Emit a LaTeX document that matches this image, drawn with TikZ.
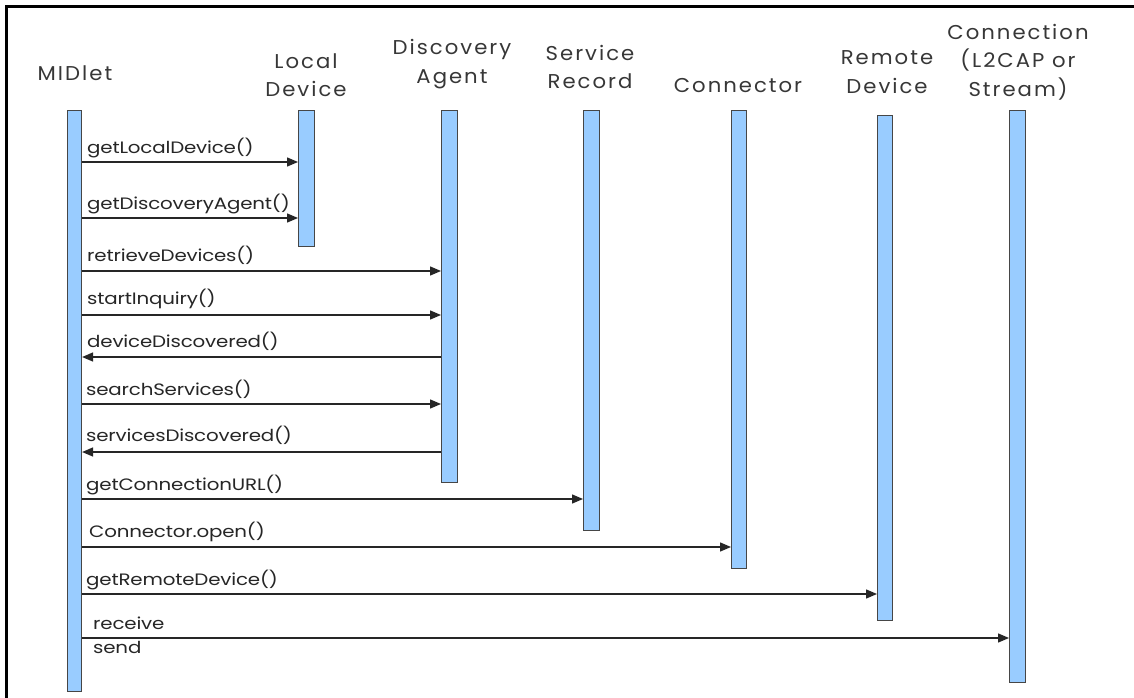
\documentclass[tikz,border=0pt]{standalone}
\usepackage{fontspec}
\setmainfont{Poppins}
\newfontfamily\headfont[FakeStretch=1.06,LetterSpace=10]{Poppins}
\newfontfamily\msgfont[FakeStretch=1.2,LetterSpace=-1]{Poppins}
\usetikzlibrary{arrows.meta}
\definecolor{barblue}{RGB}{153,204,255}
\definecolor{baredge}{RGB}{70,70,70}
\definecolor{headgray}{RGB}{55,55,55}
\tikzset{
  lifebar/.style={draw=baredge, fill=barblue, line width=1.1pt, inner sep=0pt},
  head/.style={font=\headfont\fontsize{20}{28.5}\selectfont, text=headgray, align=center, inner sep=0pt},
  msglabel/.style={font=\msgfont\fontsize{16.5}{20}\selectfont, text=black!85, anchor=base west, inner sep=0pt},
  msg/.style={draw=black!85, line width=1.4pt, -{Triangle[length=11pt,width=9pt]}},
}
\newcommand{\lifeline}[5]{% name, x-left, x-right, top, bottom
  \node[lifebar, minimum width=#3-#2, minimum height=#5-#4, anchor=north west] (#1) at (#2,#4) {};}
\begin{document}
\begin{tikzpicture}[x=1pt,y=-1pt]
  \useasboundingbox (0,0) rectangle (1134,698);
  \fill[white] (0,0) rectangle (1134,698);
  % outer frame (left and top edges)
  \draw[line width=3pt] (6.5,698) -- (6.5,6.5) -- (1134,6.5);

  % lifeline headers
  \node[head] (hMid) at (75,73) {MIDlet};
  \node[head] (hLoc) at (306,75) {Local\\Device};
  \node[head] (hDis) at (452,64) {Discovery\\Agent};
  \node[head] (hSer) at (590,67) {Service\\Record};
  \node[head] (hCon) at (738,86) {Connector};
  \node[head] (hRem) at (887,72) {Remote\\Device};
  \node[head] (hCxn) at (1018,62) {Connection\\(L2CAP or\\Stream)};

  % activation bars
  \lifeline{mid}{67}{81}{110}{691}
  \lifeline{loc}{298}{314}{110}{246}
  \lifeline{dis}{441}{457}{110}{482}
  \lifeline{ser}{583}{599}{110}{530}
  \lifeline{con}{731}{746}{110}{568}
  \lifeline{rem}{877}{892}{115}{620}
  \lifeline{cxn}{1009}{1025}{110}{682}

  % message rows
  \coordinate (r1) at (0,162);
  \coordinate (r2) at (0,218);
  \coordinate (r3) at (0,271);
  \coordinate (r4) at (0,315);
  \coordinate (r5) at (0,357);
  \coordinate (r6) at (0,404);
  \coordinate (r7) at (0,452);
  \coordinate (r8) at (0,499);
  \coordinate (r9) at (0,547);
  \coordinate (r10) at (0,594);
  \coordinate (r11) at (0,638);

  \draw[msg] (mid.east |- r1) -- (loc.west |- r1);
  \draw[msg] (mid.east |- r2) -- (loc.west |- r2);
  \draw[msg] (mid.east |- r3) -- (dis.west |- r3);
  \draw[msg] (mid.east |- r4) -- (dis.west |- r4);
  \draw[msg] (dis.west |- r5) -- (mid.east |- r5);
  \draw[msg] (mid.east |- r6) -- (dis.west |- r6);
  \draw[msg] (dis.west |- r7) -- (mid.east |- r7);
  \draw[msg] (mid.east |- r8) -- (ser.west |- r8);
  \draw[msg] (mid.east |- r9) -- (con.west |- r9);
  \draw[msg] (mid.east |- r10) -- (rem.west |- r10);
  \draw[msg] (mid.east |- r11) -- (cxn.west |- r11);

  % message labels
  \node[msglabel] (l1) at (87,153) {getLocalDevice()};
  \node[msglabel] (l2) at (87,209) {getDiscoveryAgent()};
  \node[msglabel] (l3) at (87,261) {retrieveDevices()};
  \node[msglabel] (l4) at (87,304) {startInquiry()};
  \node[msglabel] (l5) at (87,347) {deviceDiscovered()};
  \node[msglabel] (l6) at (86,395) {searchServices()};
  \node[msglabel] (l7) at (86,441) {servicesDiscovered()};
  \node[msglabel] (l8) at (86,490) {getConnectionURL()};
  \node[msglabel] (l9) at (89,537) {Connector.open()};
  \node[msglabel] (l10) at (86,585) {getRemoteDevice()};
  \node[msglabel] (l11) at (93,629) {receive};
  \node[msglabel] (l12) at (93,653) {send};
\end{tikzpicture}
\end{document}
